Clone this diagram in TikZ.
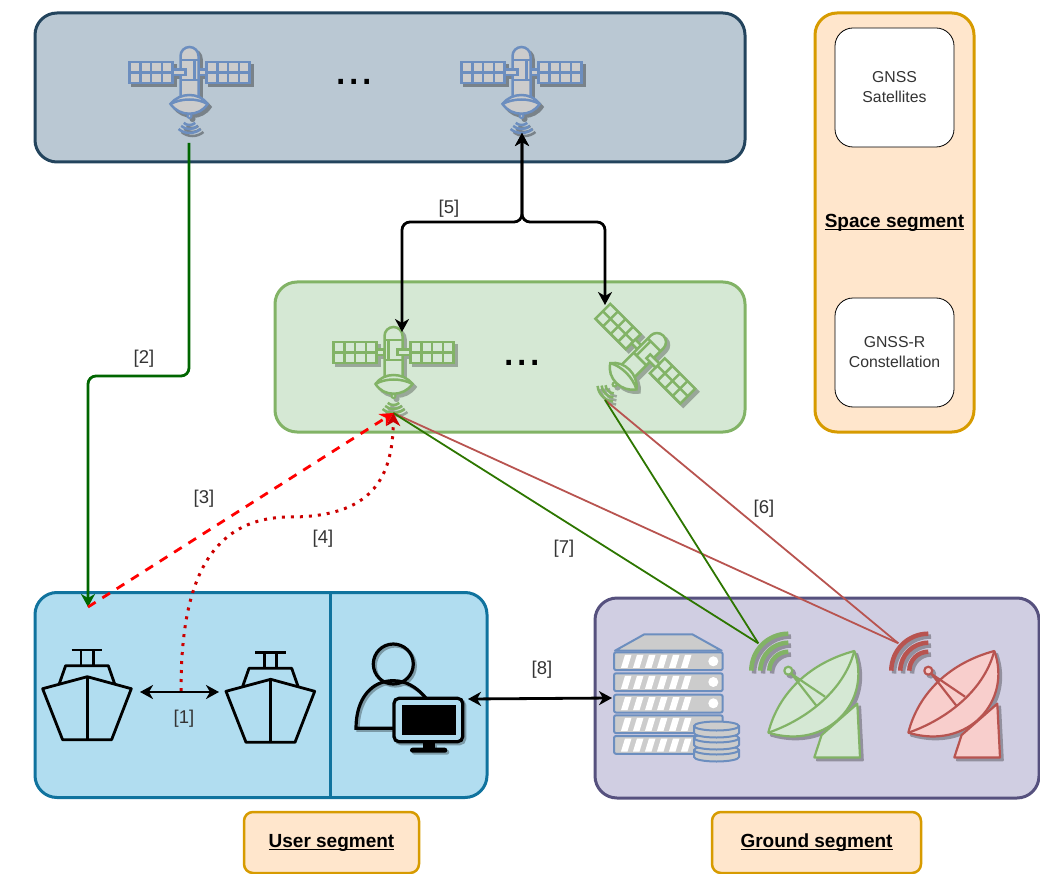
\documentclass[tikz,border=0pt]{standalone}
\usepackage{fontspec}
\setmainfont{Liberation Sans}
\usetikzlibrary{arrows.meta,shapes}

\definecolor{navy}{HTML}{23445D}
\definecolor{navyfill}{HTML}{BAC8D3}
\definecolor{sage}{HTML}{82B366}
\definecolor{sagefill}{HTML}{D5E8D4}
\definecolor{teal}{HTML}{10739E}
\definecolor{tealfill}{HTML}{B1DDF0}
\definecolor{plum}{HTML}{56517E}
\definecolor{plumfill}{HTML}{D0CEE2}
\definecolor{amber}{HTML}{D79B00}
\definecolor{amberfill}{HTML}{FFE6CC}
\definecolor{steel}{HTML}{6C8EBF}
\definecolor{brick}{HTML}{B85450}
\definecolor{brickfill}{HTML}{F8CECC}
\definecolor{leaf}{HTML}{2D7600}
\definecolor{forest}{HTML}{006600}

\newcommand{\seg}[1]{\underline{\smash{#1}}}

\tikzset{
  segbox/.style={draw,line width=3pt,rounded corners=22pt,inner sep=0pt},
  lab/.style={font=\fontsize{18.5}{22}\selectfont,text=black!80},
  seglab/.style={font=\fontsize{19}{22}\selectfont\bfseries},
  dots/.style={font=\fontsize{48}{48}\selectfont,anchor=base,inner sep=0pt},
  pics/satellite/.style n args={2}{code={
    \begin{scope}[draw=#1,fill=#2,line width=2.5pt]
      \foreach \px in {-60,17} {
        \filldraw (\px,-18) rectangle (\px+43,3);
        \draw (\px,-7.5) -- (\px+43,-7.5);
        \foreach \q in {10.75,21.5,32.25} \draw (\px+\q,-18) -- (\px+\q,3);
      }
      \filldraw (-17,-10.5) rectangle (-9,-5);
      \filldraw (-9,22) -- (-9,-24) arc[start angle=180,end angle=360,radius=9] -- (9,22) -- cycle;
      \draw (-9,-20) -- (9,-20) (-9,0) -- (9,0) (-5,-20) -- (-5,0);
      \filldraw (4,-10.5) rectangle (17,-5);
      \filldraw (-18,24) .. controls (-10,12) and (10,12) .. (19,24)
        .. controls (10,37) and (-10,37) .. cycle;
      \draw (-18,24) .. controls (-8,18) and (8,18) .. (19,24);
      \draw[line width=2pt] (0,33) -- (0,34);
      \filldraw[line width=2pt] (0,36) circle[radius=2];
      \draw (0,36) ++(50:9) arc[start angle=50,end angle=130,radius=9];
      \draw (0,36) ++(50:13) arc[start angle=50,end angle=130,radius=13];
      \draw (0,36) ++(50:17) arc[start angle=50,end angle=130,radius=17];
    \end{scope}
  }},
  pics/ship/.style={code={
    \begin{scope}[draw=black,line width=2.8pt,line join=round]
      \draw (-28,-23) -- (-21.7,-41) -- (21,-41) -- (27.3,-23);
      \draw (-6.3,-41) -- (-6.3,-56.7) (6,-41) -- (6,-56.7) (-15.7,-56.7) -- (15,-56.7);
      \draw (0,-30) -- (-44.7,-18) -- (-24.7,33) -- (24.3,33) -- (44,-18) -- cycle;
      \draw (0,-30) -- (0,33);
    \end{scope}
  }},
  pics/dish/.style n args={2}{code={
    \begin{scope}[draw=#1,fill=#2,line width=2.2pt,line join=round]
      \filldraw (33.3,64.3) -- (26,86.7) -- (71.7,86.7) -- (69,33) -- cycle;
      \filldraw (66,-19.7) .. controls (84,30) and (40,80) .. (-20,62)
        .. controls (-10,22) and (22,-8) .. cycle;
      \draw (-20,62) .. controls (15,50) and (55,22) .. (66,-19.7);
      \draw (3.3,3.3) -- (36.7,26) (3.3,3.3) -- (28.3,35.3);
      \filldraw (0,0) circle[radius=4];
      \draw[line width=4.5pt] (-37,0) arc[start angle=180,end angle=270,radius=37];
      \draw[line width=4.5pt] (-28,0) arc[start angle=180,end angle=270,radius=28];
      \draw[line width=4.5pt] (-19,0) arc[start angle=180,end angle=270,radius=19];
    \end{scope}
  }}
}

\begin{document}
\begin{tikzpicture}[x=1pt,y=-1pt,>={Stealth[length=13pt,width=14pt,inset=4pt]}]
  \useasboundingbox (0,0) rectangle (1040,874);

  % segments
  \node (gnss) [segbox,draw=navy,fill=navyfill,minimum width=710pt,minimum height=149pt] at (390,87.5) {};
  \node (reflect) [segbox,draw=sage,fill=sagefill,minimum width=470pt,minimum height=150pt] at (510,357) {};
  \node (users) [segbox,draw=teal,fill=tealfill,minimum width=452pt,minimum height=205pt] at (261,695) {};
  \node (ground) [segbox,draw=plum,fill=plumfill,minimum width=444pt,minimum height=200pt] at (817,698) {};
  \node (space) [segbox,draw=amber,fill=amberfill,minimum width=159pt,minimum height=419pt] at (894.5,222.5) {};
  \node (gnssbox) [draw,fill=white,rounded corners=18pt,line width=0.8pt,minimum width=119pt,minimum height=119pt,align=center,font=\fontsize{15.8}{20}\selectfont,text=black!80] at (894.5,87.5) {GNSS\\Satellites};
  \node (refbox) [draw,fill=white,rounded corners=18pt,line width=0.8pt,minimum width=119pt,minimum height=109pt,align=center,font=\fontsize{15.8}{20}\selectfont,text=black!80] at (894.5,352.5) {GNSS-R\\Constellation};
  \node (spacelab) [seglab] at (894.5,229) {\seg{Space segment}};
  \node (userlab) [seglab,draw=amber,fill=amberfill,line width=2.5pt,rounded corners=9pt,minimum width=175pt,minimum height=61pt,text height=10pt,text depth=0pt] at (331.5,842.5) {\seg{User segment}};
  \node (groundlab) [seglab,draw=amber,fill=amberfill,line width=2.5pt,rounded corners=9pt,minimum width=209pt,minimum height=61pt,text height=10pt,text depth=0pt] at (816.5,842.5) {\seg{Ground segment}};
  \coordinate (divtop) at (330.5,593);
  \coordinate (divbot) at (330.5,797);
  \draw[teal,line width=2.5pt] (divtop) -- (divbot);

  % satellites
  \foreach \sx in {189.5,521.5} {
    \pic[xscale=-1] at (\sx+3,83) {satellite={navyfill!65!black}{navyfill!65!black}};
    \pic[xscale=-1] at (\sx,80) {satellite={steel}{black!20}};
  }
  \pic at (396.5,363) {satellite={sagefill!72!black}{sagefill!72!black}};
  \pic at (393.5,360) {satellite={sage}{sagefill}};
  \pic[rotate=-45] at (643,362) {satellite={sagefill!72!black}{sagefill!72!black}};
  \pic[rotate=-45] at (640,359) {satellite={sage}{sagefill}};
  \node (dotsa) [dots] at (354,85) {...};
  \node (dotsb) [dots] at (522,365) {...};

  % ships and operator
  \pic at (87.3,706.7) {ship};
  \pic at (270.7,709.3) {ship};
  \foreach \dx/\dc in {2/tealfill!70!black,0/black} {
    \begin{scope}[xshift=\dx,yshift=-\dx,draw=\dc,line width=3.2pt]
      \draw (393.3,664) circle[radius=20];
      \draw (426,698.3) .. controls (416,686) and (405,680.7) .. (393,680.7)
        .. controls (372,680.7) and (356,698) .. (356,728.3) -- (394,728.3);
      \filldraw[fill=tealfill,rounded corners=5pt] (394,698.3) rectangle (462.7,741.7);
      \fill[\dc] (401.7,705) rectangle (456,735);
      \fill[\dc] (422.7,741.7) rectangle (435,748.3);
      \fill[\dc,rounded corners=2.5pt] (410,747.7) rectangle (447.3,752.7);
    \end{scope}
  }

  % server
  \begin{scope}[draw=steel,fill=black!20,line width=2pt,line join=round]
    \filldraw (615,650.7) -- (644.3,634.3) -- (692.3,634.3) -- (721.7,650.7) -- cycle;
    \foreach \uy in {652.3,673.3,694.7,715.3,736} {
      \filldraw[rounded corners=2pt] (614,\uy) rectangle (722.7,\uy+17.8);
      \foreach \sn in {0,...,5}
        \fill[white] (621+12*\sn,\uy+15.5) -- (625+12*\sn,\uy+2.5) -- (631.5+12*\sn,\uy+2.5) -- (627.5+12*\sn,\uy+15.5) -- cycle;
    }
    \foreach \uy in {661.3,682,703.3} \fill[white] (713.3,\uy) circle[radius=5];
    \foreach \uy in {750,738,726} {
      \filldraw (694,\uy) -- (694,\uy+7) arc[start angle=180,end angle=0,x radius=22.5,y radius=4.5] -- (739,\uy) -- cycle;
      \filldraw (716.5,\uy) ellipse[x radius=22.5,y radius=4.5];
    }
  \end{scope}

  % dishes
  \pic at (791,673.5) {dish={plumfill!70!black}{plumfill!70!black}};
  \pic at (788.3,670.7) {dish={sage}{sagefill}};
  \pic at (931,673.5) {dish={plumfill!70!black}{plumfill!70!black}};
  \pic at (928.3,670.7) {dish={brick}{brickfill}};

  % connection points
  \coordinate (downa) at (189,143);
  \coordinate (shipa) at (88,607);
  \coordinate (upb) at (522,133);
  \coordinate (fork) at (522,222);
  \coordinate (inc) at (402,332);
  \coordinate (ind) at (605,305);
  \coordinate (feedc) at (393.3,413);
  \coordinate (feedd) at (605,400);
  \coordinate (wavegreen) at (758.3,643.3);
  \coordinate (wavered) at (898.3,643.3);
  \coordinate (lefta) at (140,692);
  \coordinate (righta) at (219,692);
  \coordinate (linkmid) at (181,691);
  \coordinate (opr) at (468,699);
  \coordinate (srv) at (612,698);

  % links
  \draw[brick,line width=1.8pt] (feedc) -- (wavered);
  \draw[brick,line width=1.8pt] (feedd) -- (wavered);
  \draw[leaf,line width=1.8pt] (feedc) -- (wavegreen);
  \draw[leaf,line width=1.8pt] (feedd) -- (wavegreen);
  \draw[->,forest,line width=2.8pt,rounded corners=8pt] (downa) -- (189,376) -- (88,376) -- (shipa);
  \draw[<->,line width=2.8pt,rounded corners=8pt] (upb) -- (fork) -| (inc);
  \draw[<->,line width=2.8pt,rounded corners=8pt] (upb) -- (fork) -| (ind);
  \draw[->,red,line width=2.8pt,dash pattern=on 9pt off 8pt] (shipa) -- (feedc);
  \draw[->,red!80!black,line width=3pt,dash pattern=on 3pt off 6pt]
    (linkmid) .. controls (181,610) and (195,517) .. (290,517)
    .. controls (370,517) and (393,480) .. (feedc);
  \draw[<->,line width=2.8pt] (lefta) -- (righta);
  \draw[<->,line width=2.8pt] (opr) -- (srv);

  % labels
  \node (l1) [lab] at (184,719) {[1]};
  \node (l2) [lab] at (144,359) {[2]};
  \node (l3) [lab] at (204,499) {[3]};
  \node (l4) [lab] at (323,539) {[4]};
  \node (l5) [lab] at (449,209) {[5]};
  \node (l6) [lab] at (764,509) {[6]};
  \node (l7) [lab] at (564,549) {[7]};
  \node (l8) [lab] at (542,670) {[8]};
\end{tikzpicture}
\end{document}
